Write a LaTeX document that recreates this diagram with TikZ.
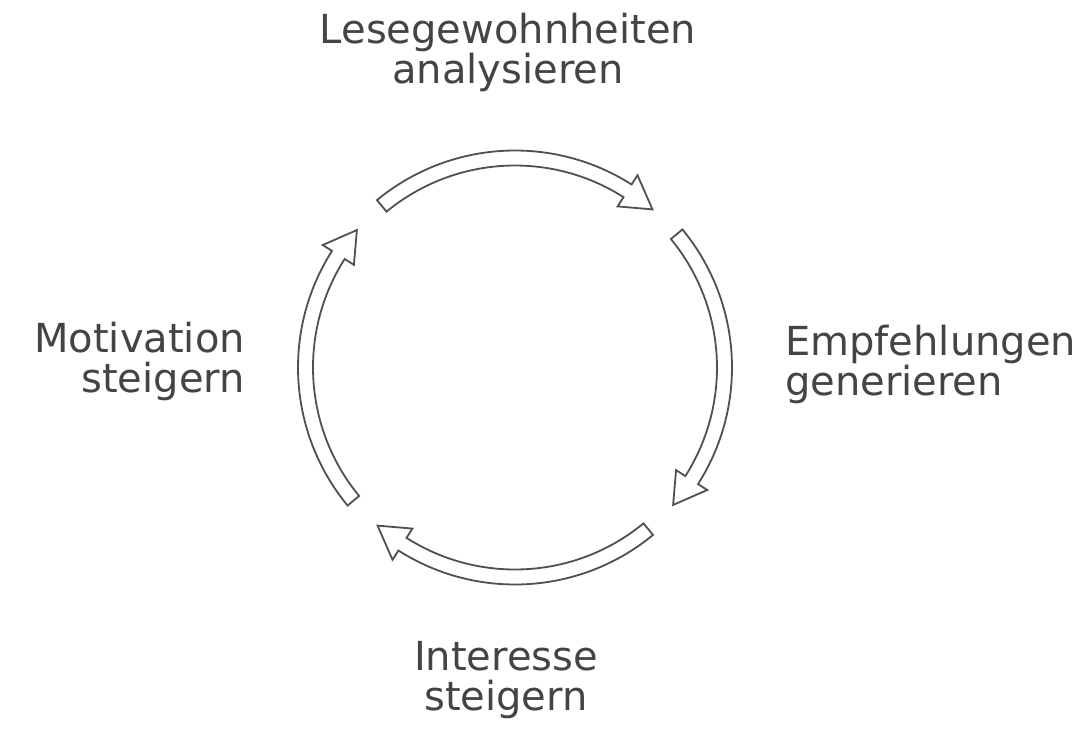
\documentclass[tikz,border=0pt]{standalone}
\usepackage{fontspec}
\setmainfont{DejaVu Sans}
\definecolor{inkgray}{HTML}{444444}
\definecolor{linegray}{HTML}{505050}
\tikzset{
  cyclearrow/.style={draw=linegray, line width=1.8pt, fill=white, line join=miter},
  steplabel/.style={text=inkgray, font=\fontsize{40}{40}\selectfont, inner sep=0pt}
}
\begin{document}
\begin{tikzpicture}[x=1pt,y=1pt]
\useasboundingbox[fill=white] (0,0) rectangle (1084,-734);
% four bent arrows, clockwise
\begin{scope}[shift={(515,-367.5)}]
\foreach \c in {90,0,-90,180}
  \draw[cyclearrow] ({\c+39.5}:202) -- ({\c+39.5}:217)
    arc[start angle={\c+39.5}, end angle={\c-32.5}, radius=217]
    -- ({\c-32.5}:228) -- ({\c-41}:209.5) -- ({\c-32.5}:191) -- ({\c-32.5}:202)
    arc[start angle={\c-32.5}, end angle={\c+39.5}, radius=202] -- cycle;
\end{scope}
% labels (base = last line)
\node[steplabel, align=center, anchor=base] (lese) at (508,-83) {Lesegewohnheiten\\analysieren};
\node[steplabel, align=left, anchor=base west] (empf) at (785,-395) {Empfehlungen\\generieren};
\node[steplabel, align=center, anchor=base] (inter) at (506,-710) {Interesse\\steigern};
\node[steplabel, align=right, anchor=base east] (moti) at (245,-392) {Motivation\\steigern};
\end{tikzpicture}
\end{document}
